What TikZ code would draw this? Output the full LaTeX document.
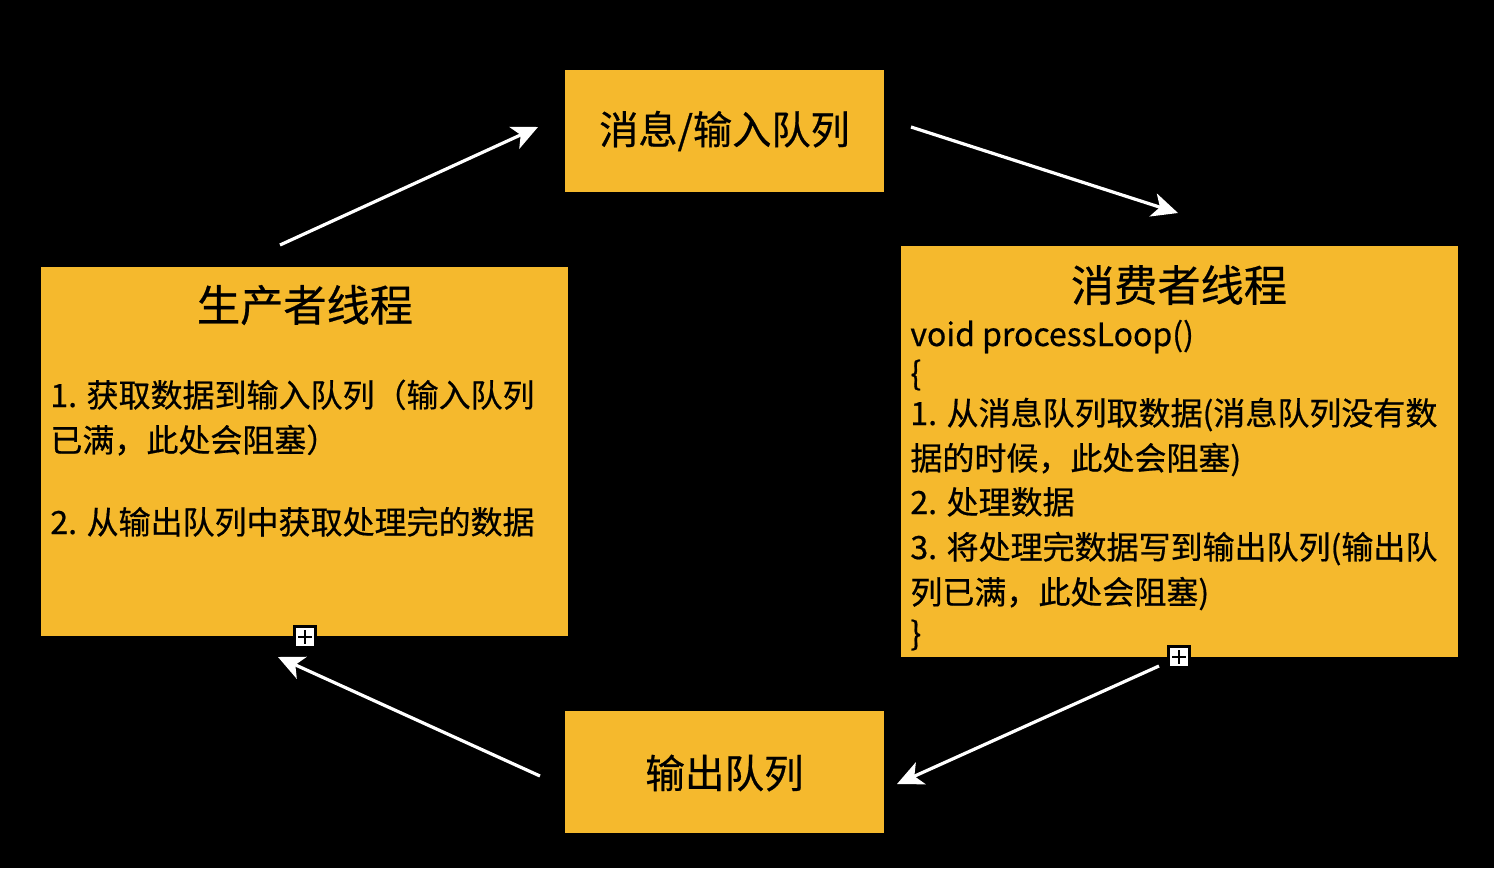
\documentclass[tikz,border=0pt]{standalone}
\usepackage{fontspec}
\setmainfont{Noto Sans CJK SC}[FakeBold=0.6,UprightFeatures={FakeBold=0.6}]
\usetikzlibrary{arrows.meta,calc}
\definecolor{boxyellow}{HTML}{F5B92D}
\tikzset{
  ybox/.style={fill=boxyellow, draw=none},
  flow/.style={draw=white, line width=1.6pt, -{Stealth[length=13pt,width=12pt,inset=3.5pt]}},
  txt/.style={anchor=base west, inner sep=0pt, font=\fontsize{16}{19}\selectfont, text=black},
  ttl/.style={anchor=center, inner sep=0pt, text=black},
  plusbox/.style={draw=black, fill=white, line width=1.1pt, minimum size=10.5pt, inner sep=0pt}
}
\begin{document}
\begin{tikzpicture}[x=0.5pt,y=-0.5pt]
\fill[black] (0,0) rectangle (1494,868);
\useasboundingbox (0,0) rectangle (1494,868);
% boxes
\path[ybox] (565,70) rectangle (884,192);
\path[ybox] (41,267) rectangle (568,636);
\path[ybox] (901,246) rectangle (1458,657);
\path[ybox] (565,711) rectangle (884,833);
\node[ttl, font=\fontsize{19.6}{22}\selectfont] (msgq) at (724.5,131) {消息/输入队列};
\node[ttl, font=\fontsize{19.8}{22}\selectfont] (outq) at (724.5,773) {输出队列};
\node[ttl, font=\fontsize{21.6}{24}\selectfont] (prod) at (305,305) {生产者线程};
\node[ttl, font=\fontsize{21.6}{24}\selectfont] (cons) at (1179,285) {消费者线程};
% producer text
\node[txt] (p1) at (50,407) {1. 获取数据到输入队列（输入队列};
\node[txt] (p2) at (50,452) {已满，此处会阻塞）};
\node[txt] (p3) at (50,534) {2. 从输出队列中获取处理完的数据};
% consumer text
\node[txt] (c0) at (910,346) {void processLoop()};
\node[txt] (c1) at (910,385) {\{};
\node[txt] (c2) at (910,425) {1. 从消息队列取数据(消息队列没有数};
\node[txt] (c3) at (910,470) {据的时候，此处会阻塞)};
\node[txt] (c4) at (910,514) {2. 处理数据};
\node[txt] (c5) at (910,559) {3. 将处理完数据写到输出队列(输出队};
\node[txt] (c6) at (910,604) {列已满，此处会阻塞)};
\node[txt] (c7) at (910,645) {\}};
% plus boxes
\node[plusbox] (pl1) at (305,637) {};
\draw[black, line width=1pt] ($(pl1)+(-7,0)$) -- ($(pl1)+(7,0)$) ($(pl1)+(0,-7)$) -- ($(pl1)+(0,7)$);
\node[plusbox] (pl2) at (1179,657) {};
\draw[black, line width=1pt] ($(pl2)+(-7,0)$) -- ($(pl2)+(7,0)$) ($(pl2)+(0,-7)$) -- ($(pl2)+(0,7)$);
% arrow coordinates
\coordinate (a1s) at (280,245);
\coordinate (a1e) at (538,127);
\coordinate (a2s) at (911,127);
\coordinate (a2e) at (1178,213);
\coordinate (a3s) at (1159,666);
\coordinate (a3e) at (897,784);
\coordinate (a4s) at (540,776);
\coordinate (a4e) at (278,657);
\draw[flow] (a1s) -- (a1e);
\draw[flow] (a2s) -- (a2e);
\draw[flow] (a3s) -- (a3e);
\draw[flow] (a4s) -- (a4e);
\end{tikzpicture}
\end{document}
